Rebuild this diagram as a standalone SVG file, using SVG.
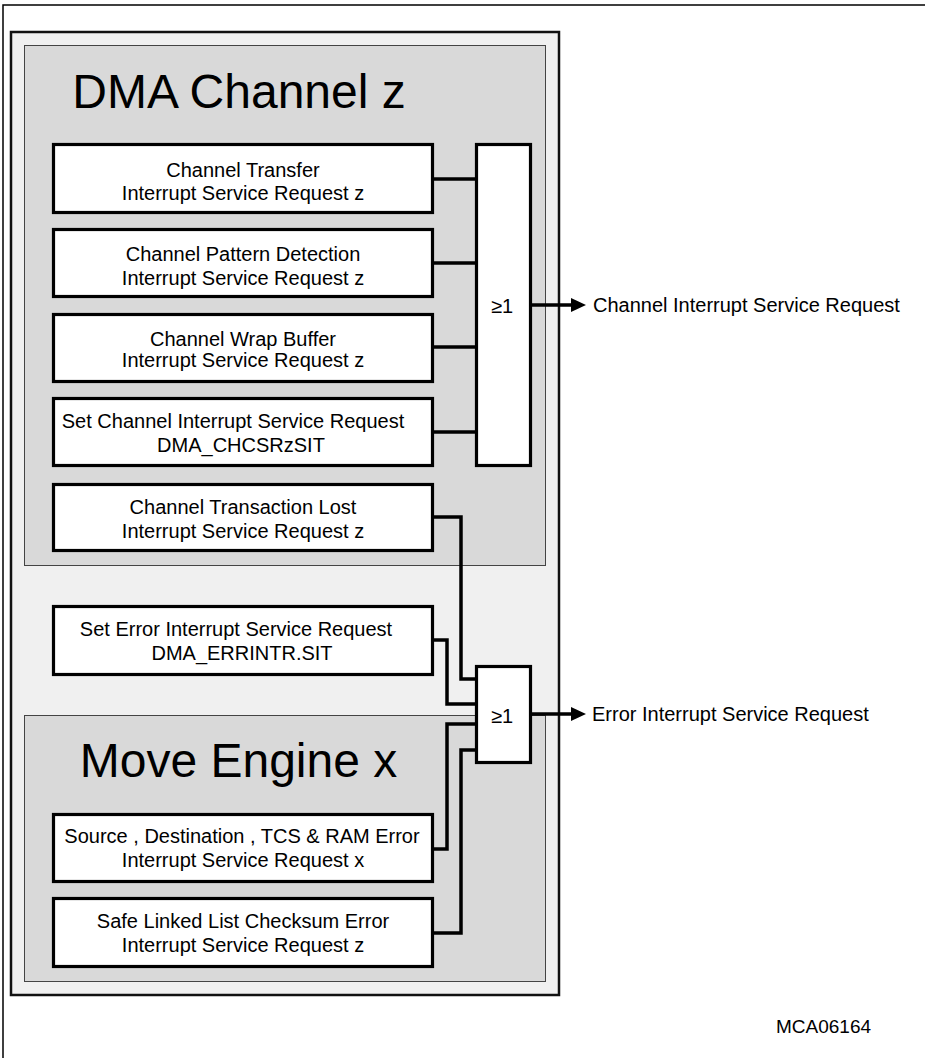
<svg xmlns="http://www.w3.org/2000/svg" width="925" height="1058" viewBox="0 0 925 1058">
<style>
  .frame{fill:none;stroke:#000;stroke-width:1.5}
  .outer{fill:#f0f0f0;stroke:#111;stroke-width:2.5}
  .group{fill:#d9d9d9;stroke:#444;stroke-width:1}
  .box{fill:#fff;stroke:#000;stroke-width:3.2}
  .gate{fill:#fff;stroke:#000;stroke-width:3.2}
  .t{font-family:"Liberation Sans",Arial,sans-serif;font-size:20px;fill:#000}
  .c{text-anchor:middle}
  .title{font-family:"Liberation Sans",Arial,sans-serif;font-size:48px;fill:#000;text-anchor:middle}
  .wire{fill:none;stroke:#000;stroke-width:3.5;stroke-linejoin:miter}
</style>
<rect width="925" height="1058" fill="#fff"/>
<path class="frame" d="M3,1058 V5 H925"/>
<rect class="outer" x="11" y="32" width="548" height="963"/>

<g id="dma-channel">
  <rect class="group" x="24.5" y="45.5" width="521" height="520"/>
  <text class="title" x="239" y="108">DMA Channel z</text>
</g>
<g id="move-engine">
  <rect class="group" x="24.5" y="715.5" width="521" height="266"/>
  <text class="title" x="238.5" y="777">Move Engine x</text>
</g>

<g id="connectors">
  <path class="wire" d="M434,179 H476"/>
  <path class="wire" d="M434,263 H476"/>
  <path class="wire" d="M434,347 H476"/>
  <path class="wire" d="M434,432 H476"/>
  <path class="wire" d="M434,517 H461 V679 H476"/>
  <path class="wire" d="M434,640 H447 V704 H476"/>
  <path class="wire" d="M434,849 H447 V724 H476"/>
  <path class="wire" d="M434,933 H461 V750 H476"/>
  <path class="wire" d="M532,305 H574"/>
  <polygon points="571,298 586,305 571,312" fill="#000"/>
  <path class="wire" d="M532,714 H574"/>
  <polygon points="571,707 586,714 571,721" fill="#000"/>
</g>

<g id="box-transfer">
  <rect class="box" x="53.5" y="144.5" width="379" height="68"/>
  <text class="t c" x="243" y="177">Channel Transfer</text>
  <text class="t c" x="243" y="200">Interrupt Service Request z</text>
</g>
<g id="box-pattern">
  <rect class="box" x="53.5" y="229.5" width="379" height="67"/>
  <text class="t c" x="243" y="261">Channel Pattern Detection</text>
  <text class="t c" x="243" y="285">Interrupt Service Request z</text>
</g>
<g id="box-wrap">
  <rect class="box" x="53.5" y="314.5" width="379" height="67"/>
  <text class="t c" x="243" y="346">Channel Wrap Buffer</text>
  <text class="t c" x="243" y="367">Interrupt Service Request z</text>
</g>
<g id="box-setchannel">
  <rect class="box" x="53.5" y="398.5" width="379" height="67"/>
  <text class="t c" x="233" y="428">Set Channel Interrupt Service Request</text>
  <text class="t c" x="241" y="452">DMA_CHCSRzSIT</text>
</g>
<g id="box-lost">
  <rect class="box" x="53.5" y="484.5" width="379" height="66"/>
  <text class="t c" x="243" y="514">Channel Transaction Lost</text>
  <text class="t c" x="243" y="538">Interrupt Service Request z</text>
</g>
<g id="box-seterror">
  <rect class="box" x="53.5" y="606.5" width="379" height="68"/>
  <text class="t c" x="236" y="636">Set Error Interrupt Service Request</text>
  <text class="t c" x="242" y="660">DMA_ERRINTR.SIT</text>
</g>
<g id="box-source">
  <rect class="box" x="53.5" y="814.5" width="379" height="67"/>
  <text class="t c" x="242" y="843">Source , Destination , TCS &amp; RAM Error</text>
  <text class="t c" x="243" y="867">Interrupt Service Request x</text>
</g>
<g id="box-safe">
  <rect class="box" x="53.5" y="898.5" width="379" height="68"/>
  <text class="t c" x="243" y="928">Safe Linked List Checksum Error</text>
  <text class="t c" x="243" y="952">Interrupt Service Request z</text>
</g>

<g id="gate-channel">
  <rect class="gate" x="476.5" y="144.5" width="54" height="321"/>
  <text class="t c" x="502" y="313">≥1</text>
</g>
<g id="gate-error">
  <rect class="gate" x="476.5" y="666.5" width="54" height="96"/>
  <text class="t c" x="502" y="723">≥1</text>
</g>

<g id="label-channel-out">
  <text class="t" x="593" y="312">Channel Interrupt Service Request</text>
</g>
<g id="label-error-out">
  <text class="t" x="592" y="721">Error Interrupt Service Request</text>
</g>
<g id="label-id">
  <text class="t" x="776" y="1033" style="font-size:19px">MCA06164</text>
</g>
</svg>
